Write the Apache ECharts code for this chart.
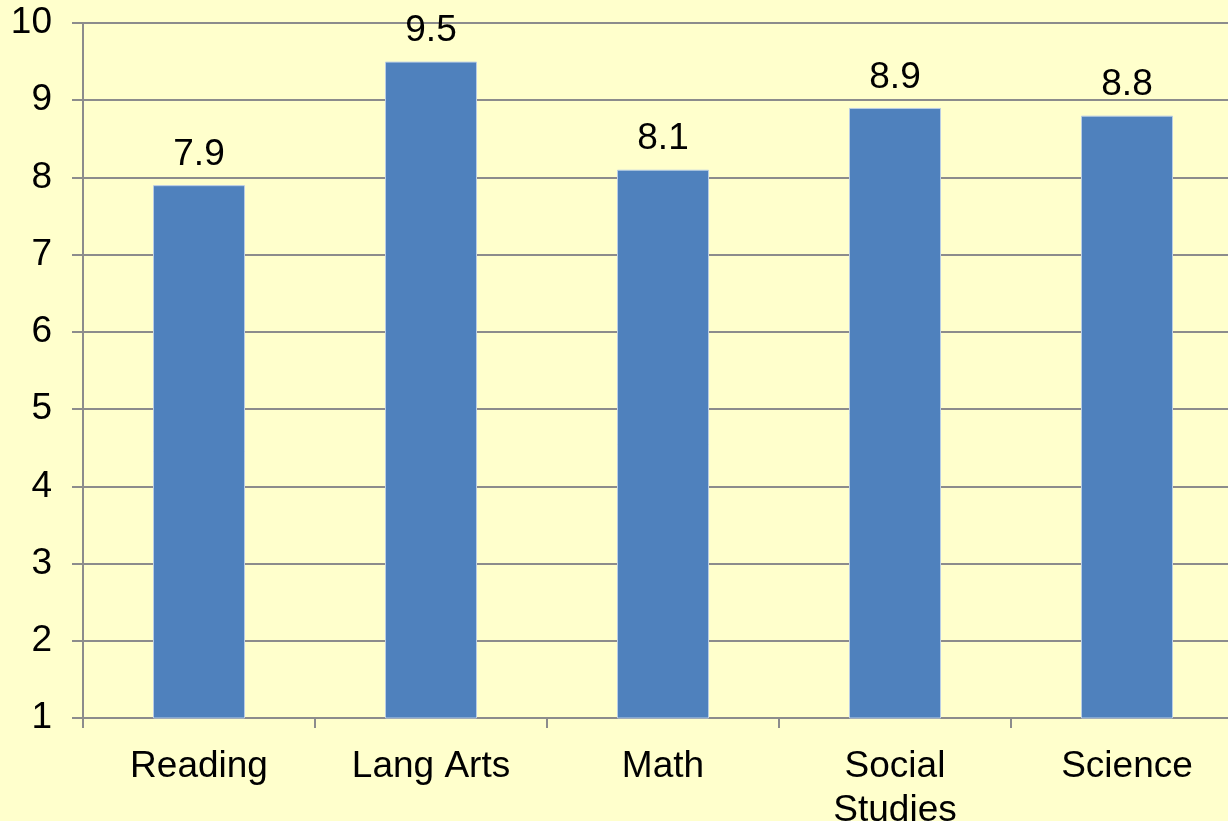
<!DOCTYPE html>
<html>
<head>
<meta charset="utf-8">
<script src="https://cdn.jsdelivr.net/npm/echarts@6/dist/echarts.min.js"></script>
<style>
html,body{margin:0;padding:0;background:#FFFFCC;overflow:hidden;width:1228px;height:821px;}
#chart{width:1260px;height:821px;}
</style>
</head>
<body>
<div id="chart"></div>
<script>
const categories = ['Reading', 'Lang Arts', 'Math', 'Social\nStudies', 'Science'];
const values = [7.9, 9.5, 8.1, 8.9, 8.8];
const yTicks = { min: 1, max: 10, interval: 1 };

const chart = echarts.init(document.getElementById('chart'), null, { renderer: 'canvas' });
const font = '"Liberation Sans", Arial, sans-serif';
const lineCol = '#8C8C8C';
chart.setOption({
  backgroundColor: '#FFFFCC',
  animation: false,
  grid: { left: 83, top: 23, right: 17, bottom: 103, containLabel: false, outerBoundsMode: 'none' },
  xAxis: {
    type: 'category',
    data: categories,
    axisLine: { show: true, lineStyle: { color: lineCol, width: 2 } },
    axisTick: { show: true, alignWithLabel: false, length: 10, lineStyle: { color: lineCol, width: 2 } },
    axisLabel: { color: '#000', fontSize: 37, fontFamily: font, margin: 27, lineHeight: 44, interval: 0 },
    splitLine: { show: false }
  },
  yAxis: {
    type: 'value',
    min: yTicks.min,
    max: yTicks.max,
    interval: yTicks.interval,
    axisLine: { show: true, lineStyle: { color: lineCol, width: 2 } },
    axisTick: { show: true, length: 11, lineStyle: { color: lineCol, width: 2 } },
    axisLabel: { color: '#000', fontSize: 37, fontFamily: font, margin: 31 },
    splitLine: { show: true, lineStyle: { color: lineCol, width: 2 } }
  },
  series: [{
    type: 'bar',
    data: values,
    barWidth: 92,
    itemStyle: { color: '#4F81BD', borderColor: '#B9CDE5', borderWidth: 1 },
    label: { show: true, position: 'top', distance: 12, color: '#000', fontSize: 37, fontFamily: font }
  }]
});
</script>
</body>
</html>
